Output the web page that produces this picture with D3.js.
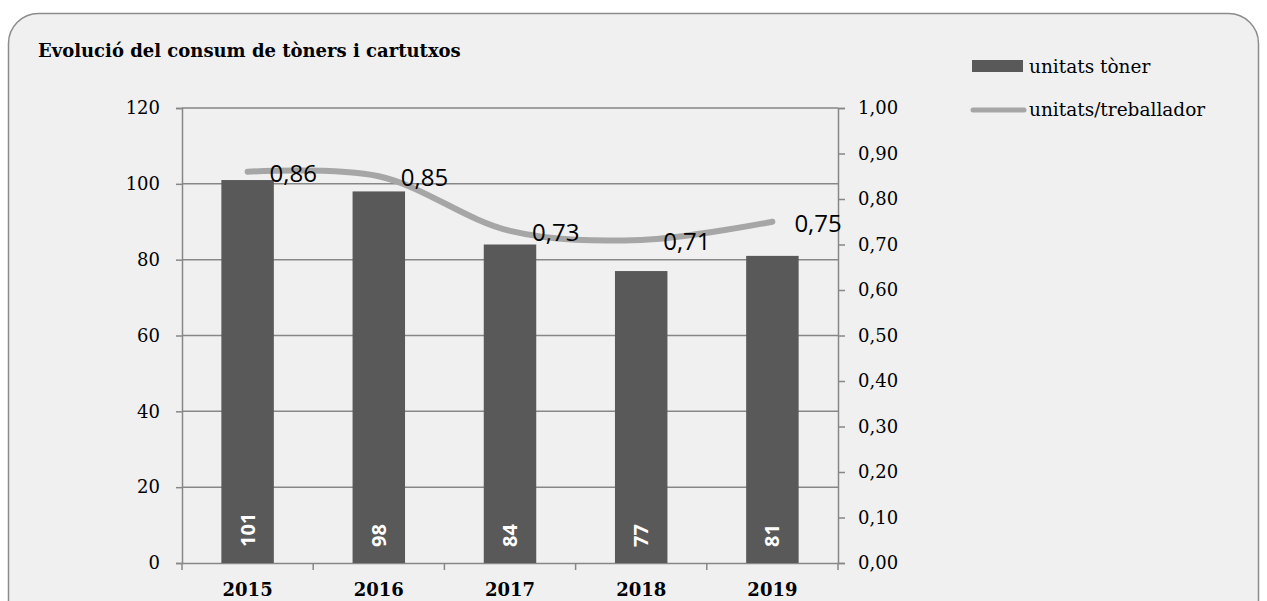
<!DOCTYPE html>
<html>
<head>
<meta charset="utf-8">
<script src="https://cdn.jsdelivr.net/npm/d3@7"></script>
<style>
  body { margin: 0; background: #fff; }
  svg { display: block; }
</style>
</head>
<body>
<div id="chart"></div>
<script>
const years = ["2015", "2016", "2017", "2018", "2019"];
const tonerUnits = [101, 98, 84, 77, 81];
const unitsPerWorker = [0.86, 0.85, 0.73, 0.71, 0.75];
const leftTicks = [0, 20, 40, 60, 80, 100, 120];
const rightTicks = [0, 0.1, 0.2, 0.3, 0.4, 0.5, 0.6, 0.7, 0.8, 0.9, 1.0];
const seriesNames = ["unitats tòner", "unitats/treballador"];
const titleText = "Evolució del consum de tòners i cartutxos";

const width = 1267, height = 601;
const margin = { top: 108, right: 429, bottom: 38, left: 182 };
const serif = "'DejaVu Serif', serif";
const sans = "'Open Sans', sans-serif";
const barColor = "#595959", lineColor = "#a6a6a6", gridColor = "#878787";

const svg = d3.select("#chart").append("svg")
  .attr("width", width)
  .attr("height", height);

// frame
svg.append("rect")
  .attr("x", 8.5).attr("y", 13.5)
  .attr("width", 1250).attr("height", 620)
  .attr("rx", 30).attr("ry", 30)
  .attr("fill", "#f0f0f0")
  .attr("stroke", "#8c8c8c")
  .attr("stroke-width", 1.5);

svg.append("text")
  .attr("x", 38).attr("y", 57)
  .attr("font-family", serif)
  .attr("font-weight", "bold")
  .attr("font-size", 18)
  .attr("fill", "#000")
  .text(titleText);

const x = d3.scaleBand()
  .domain(years)
  .range([margin.left, width - margin.right])
  .paddingInner(0.6)
  .paddingOuter(0.3);

const xTicks = d3.scaleBand().domain(years).range([margin.left, width - margin.right]);

const y = d3.scaleLinear()
  .domain([0, 120])
  .range([height - margin.bottom, margin.top]);

const y2 = d3.scaleLinear()
  .domain([0, 1])
  .range([height - margin.bottom, margin.top]);

const comma = v => d3.format(".2f")(v).replace(".", ",");

// gridlines
svg.append("g")
  .selectAll("line")
  .data(leftTicks.filter(d => d > 0))
  .enter().append("line")
  .attr("x1", margin.left).attr("x2", width - margin.right)
  .attr("y1", d => y(d)).attr("y2", d => y(d))
  .attr("stroke", gridColor)
  .attr("stroke-width", 1.5);

// left axis
const yAxis = g => g
  .attr("transform", `translate(${margin.left},0)`)
  .call(d3.axisLeft(y).tickValues(leftTicks).tickSize(6).tickPadding(16))
  .call(g => g.selectAll("path, line").attr("stroke", gridColor).attr("stroke-width", 1.5))
  .call(g => g.selectAll("text")
    .attr("font-family", serif).attr("font-size", 18).attr("fill", "#000"));

// right axis
const y2Axis = g => g
  .attr("transform", `translate(${width - margin.right},0)`)
  .call(d3.axisRight(y2).tickValues(rightTicks).tickFormat(comma).tickSize(7).tickPadding(13))
  .call(g => g.selectAll("path, line").attr("stroke", gridColor).attr("stroke-width", 1.5))
  .call(g => g.selectAll("text")
    .attr("font-family", serif).attr("font-size", 18).attr("fill", "#000"));

// bottom axis
const xAxis = g => g
  .attr("transform", `translate(0,${height - margin.bottom})`)
  .call(d3.axisBottom(xTicks).tickSize(0).tickPadding(20))
  .call(g => g.select(".domain").attr("stroke", gridColor).attr("stroke-width", 1.5))
  .call(g => g.selectAll("text")
    .attr("font-family", serif).attr("font-weight", "bold").attr("font-size", 18).attr("fill", "#000"))
  .call(g => g.selectAll(".sep")
    .data(years.map(d => xTicks(d)).concat([width - margin.right]))
    .enter().append("line")
    .attr("x1", d => d).attr("x2", d => d)
    .attr("y1", 0).attr("y2", 7)
    .attr("stroke", gridColor).attr("stroke-width", 1.5));

svg.append("g").call(yAxis);
svg.append("g").call(y2Axis);
svg.append("g").call(xAxis);

// bars
svg.append("g")
  .selectAll("rect")
  .data(years)
  .enter().append("rect")
  .attr("x", d => x(d))
  .attr("y", (d, i) => y(tonerUnits[i]))
  .attr("width", x.bandwidth())
  .attr("height", (d, i) => y(0) - y(tonerUnits[i]))
  .attr("fill", barColor);

// bar labels
svg.append("g")
  .selectAll("text")
  .data(years)
  .enter().append("text")
  .attr("transform", d => `translate(${x(d) + x.bandwidth() / 2 + 7},${y(0) - 16}) rotate(-90)`)
  .attr("font-family", sans)
  .attr("font-weight", "bold")
  .attr("font-size", 20)
  .attr("fill", "#fff")
  .text((d, i) => tonerUnits[i]);

// line
const cx = d => x(d) + x.bandwidth() / 2;
const line = d3.line()
  .x(d => cx(d))
  .y((d, i) => y2(unitsPerWorker[i]))
  .curve(d3.curveCatmullRom.alpha(0.5));

svg.append("path")
  .datum(years)
  .attr("d", line)
  .attr("fill", "none")
  .attr("stroke", lineColor)
  .attr("stroke-width", 6)
  .attr("stroke-linecap", "round");

svg.append("g")
  .selectAll("text")
  .data(years)
  .enter().append("text")
  .attr("x", d => cx(d) + 22)
  .attr("y", (d, i) => y2(unitsPerWorker[i]) + 10)
  .attr("font-family", sans)
  .attr("font-size", 24)
  .attr("fill", "#000")
  .text((d, i) => comma(unitsPerWorker[i]));

// legend
const legend = svg.append("g");
legend.append("rect")
  .attr("x", 972).attr("y", 60)
  .attr("width", 51).attr("height", 12)
  .attr("fill", barColor);
legend.append("line")
  .attr("x1", 973).attr("x2", 1024)
  .attr("y1", 110).attr("y2", 110)
  .attr("stroke", lineColor)
  .attr("stroke-width", 5)
  .attr("stroke-linecap", "round");
legend.selectAll("text")
  .data(seriesNames)
  .enter().append("text")
  .attr("x", 1029)
  .attr("y", (d, i) => 73 + i * 43)
  .attr("font-family", serif)
  .attr("font-size", 18.5)
  .attr("fill", "#000")
  .text(d => d);
</script>
</body>
</html>
